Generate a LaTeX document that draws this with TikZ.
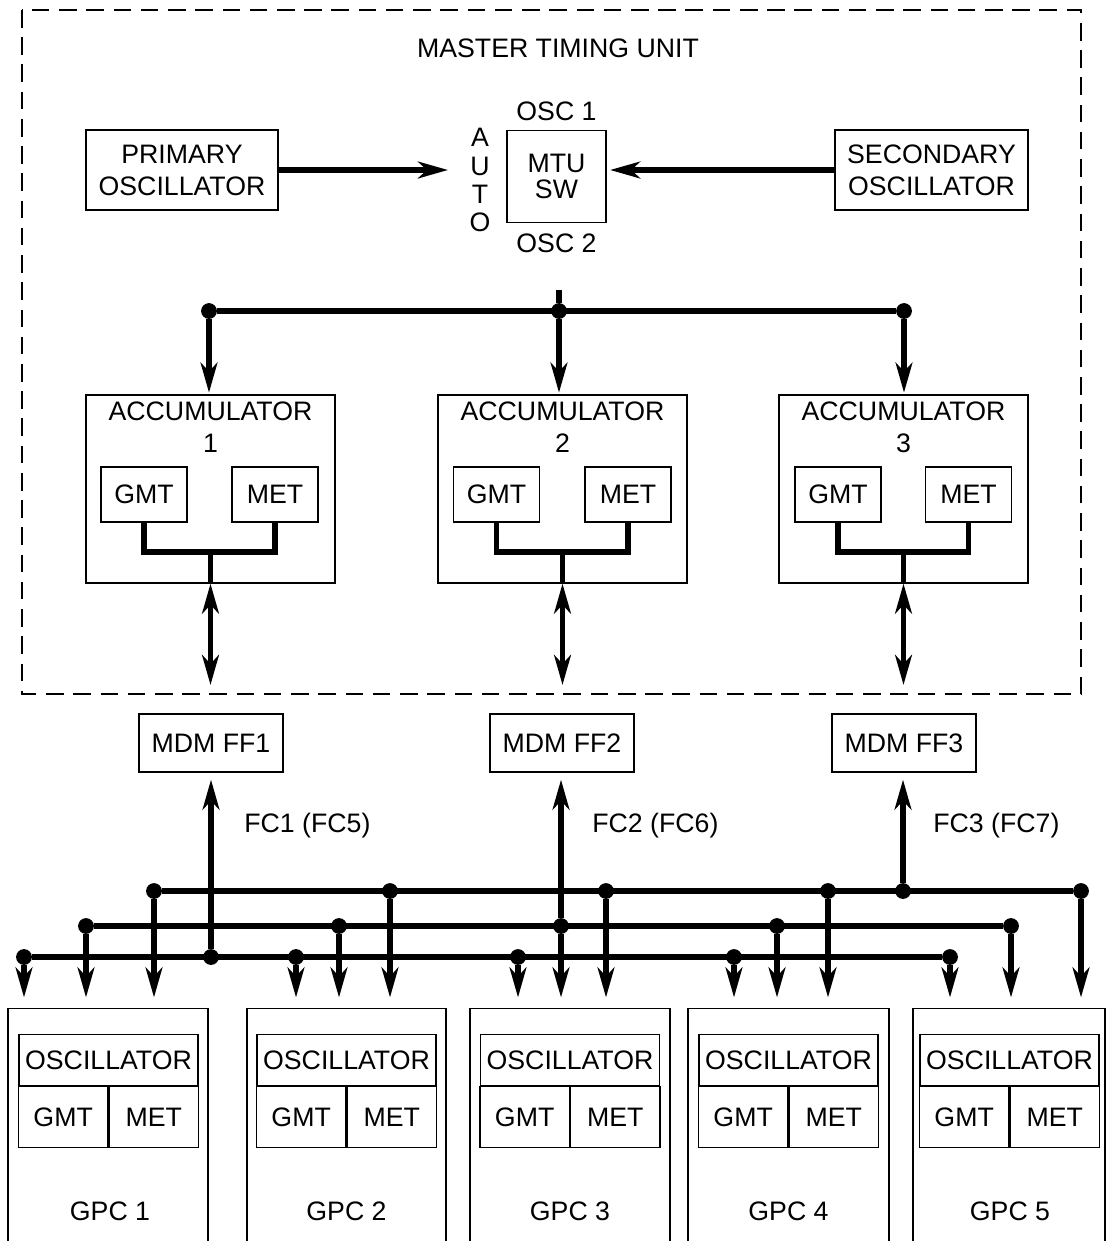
\documentclass[tikz,border=0pt]{standalone}
\usepackage{fontspec}
\setmainfont{Liberation Sans}
\usetikzlibrary{arrows.meta,positioning,calc}

\begin{document}
\begin{tikzpicture}[x=0.02cm,y=-0.02cm]
	\tikzset{>={Stealth[length=17pt,width=9.5pt,inset=5pt]}}
	\tikzset{box/.style={draw,line width=0.7pt,inner sep=0pt,align=center,font=\fontsize{15.2}{18.2}\selectfont},
		lbl/.style={inner sep=0pt,align=center,font=\fontsize{15.2}{18.2}\selectfont},
		bus/.style={line width=3.1pt},
		dot/.style={fill,circle,inner sep=0pt,minimum size=9pt}}
	\clip (0,0) rectangle (1106,1241);
	% master timing unit
	\draw[line width=0.75pt,dash pattern=on 10pt off 5.5pt] (22,10) rectangle (1081,694);
	\node[lbl] (mtu) at (558,48) {MASTER TIMING UNIT};
	\node[box,minimum width=3.84cm,minimum height=1.6cm] (prim) at (182,170) {PRIMARY\\OSCILLATOR};
	\node[box,minimum width=3.86cm,minimum height=1.6cm] (sec) at (931.5,170) {SECONDARY\\OSCILLATOR};
	\node[box,minimum width=1.98cm,minimum height=1.84cm,font=\fontsize{15.2}{15}\selectfont] (sw) at (556.5,176.5) {MTU\\SW};
	\node[lbl,above=5pt of sw] (osc1) {OSC 1};
	\node[lbl,below=6pt of sw] (osc2) {OSC 2};
	\node[lbl,font=\fontsize{15.2}{16}\selectfont] (auto) at (480,180) {A\\U\\T\\O};
	\coordinate (autoin) at (448,170);
	\draw[bus,->] (prim) -- (autoin);
	\draw[bus,->,shorten >=2pt] (sec) -- (sec -| sw.east);
	% distribution to accumulators
	\coordinate (stub) at (559,290);
	\node[dot] (t1) at (209,311) {};
	\node[dot] (t2) at (559,311) {};
	\node[dot] (t3) at (904,311) {};
	\draw[bus] (stub) -- (t2);
	\draw[bus] (t1) -- (t3);
	% accumulators
	\node[box,minimum width=4.98cm,minimum height=3.76cm] (acc1) at (210.5,489) {};
	\node[box,minimum width=4.98cm,minimum height=3.76cm] (acc2) at (562.5,489) {};
	\node[box,minimum width=4.98cm,minimum height=3.76cm] (acc3) at (903.5,489) {};
	\node[lbl,below=4pt of acc1.north] (acc1t) {ACCUMULATOR\\1};
	\node[lbl,below=4pt of acc2.north] (acc2t) {ACCUMULATOR\\2};
	\node[lbl,below=4pt of acc3.north] (acc3t) {ACCUMULATOR\\3};
	\node[box,minimum width=1.72cm,minimum height=1.1cm] (gmt1) at (144,494.5) {GMT};
	\node[box,minimum width=1.72cm,minimum height=1.1cm] (met1) at (275,494.5) {MET};
	\node[box,minimum width=1.72cm,minimum height=1.1cm] (gmt2) at (496.5,494.5) {GMT};
	\node[box,minimum width=1.72cm,minimum height=1.1cm] (met2) at (628,494.5) {MET};
	\node[box,minimum width=1.72cm,minimum height=1.1cm] (gmt3) at (838,494.5) {GMT};
	\node[box,minimum width=1.72cm,minimum height=1.1cm] (met3) at (968.5,494.5) {MET};
	\draw[bus,->,shorten >=1pt] (t1) -- (t1 |- acc1.north);
	\draw[bus,->,shorten >=1pt] (t2) -- (t2 |- acc2.north);
	\draw[bus,->,shorten >=1pt] (t3) -- (t3 |- acc3.north);
	\coordinate (j1) at (210.5,552);
	\coordinate (j2) at (562.5,552);
	\coordinate (j3) at (903.5,552);
	\draw[bus] (gmt1.south) |- (j1) -| (met1.south);
	\draw[bus] (gmt2.south) |- (j2) -| (met2.south);
	\draw[bus] (gmt3.south) |- (j3) -| (met3.south);
	\draw[bus] (j1) -- (acc1.south);
	\draw[bus] (j2) -- (acc2.south);
	\draw[bus] (j3) -- (acc3.south);
	\coordinate (a1) at (210.5,685);
	\coordinate (a2) at (562.5,685);
	\coordinate (a3) at (903.5,685);
	\draw[bus,<->] (acc1.south) -- (a1);
	\draw[bus,<->] (acc2.south) -- (a2);
	\draw[bus,<->] (acc3.south) -- (a3);
	% MDMs
	\node[box,minimum width=2.88cm,minimum height=1.16cm] (ff1) at (211,743) {MDM FF1};
	\node[box,minimum width=2.88cm,minimum height=1.16cm] (ff2) at (562,743) {MDM FF2};
	\node[box,minimum width=2.88cm,minimum height=1.16cm] (ff3) at (904,743) {MDM FF3};
	\node[lbl,anchor=west] (fc1) at (244,826) {FC1 (FC5)};
	\node[lbl,anchor=west] (fc2) at (592,826) {FC2 (FC6)};
	\node[lbl,anchor=west] (fc3) at (933,826) {FC3 (FC7)};
	% GPCs
	\node[box,minimum width=4cm,minimum height=6cm,anchor=north] (gpc1) at (108,1008) {};
	\node[box,minimum width=3.98cm,minimum height=6cm,anchor=north] (gpc2) at (346.5,1008) {};
	\node[box,minimum width=4cm,minimum height=6cm,anchor=north] (gpc3) at (570,1008) {};
	\node[box,minimum width=4.02cm,minimum height=6cm,anchor=north] (gpc4) at (788.5,1008) {};
	\node[box,minimum width=3.84cm,minimum height=6cm,anchor=north] (gpc5) at (1009,1008) {};
	\node[box,minimum width=3.58cm,minimum height=1.02cm,anchor=north] (osc1g) at (108.5,1034) {OSCILLATOR};
	\node[box,minimum width=3.58cm,minimum height=1.02cm,anchor=north] (osc2g) at (346.5,1034) {OSCILLATOR};
	\node[box,minimum width=3.58cm,minimum height=1.02cm,anchor=north] (osc3g) at (570,1034) {OSCILLATOR};
	\node[box,minimum width=3.58cm,minimum height=1.02cm,anchor=north] (osc4g) at (788.5,1034) {OSCILLATOR};
	\node[box,minimum width=3.58cm,minimum height=1.02cm,anchor=north] (osc5g) at (1009.5,1034) {OSCILLATOR};
	\node[box,minimum width=1.79cm,minimum height=1.22cm,anchor=north east] (g1) at (osc1g.south) {GMT};
	\node[box,minimum width=1.79cm,minimum height=1.22cm,anchor=north west] (m1) at (osc1g.south) {MET};
	\node[box,minimum width=1.79cm,minimum height=1.22cm,anchor=north east] (g2) at (osc2g.south) {GMT};
	\node[box,minimum width=1.79cm,minimum height=1.22cm,anchor=north west] (m2) at (osc2g.south) {MET};
	\node[box,minimum width=1.79cm,minimum height=1.22cm,anchor=north east] (g3) at (osc3g.south) {GMT};
	\node[box,minimum width=1.79cm,minimum height=1.22cm,anchor=north west] (m3) at (osc3g.south) {MET};
	\node[box,minimum width=1.79cm,minimum height=1.22cm,anchor=north east] (g4) at (osc4g.south) {GMT};
	\node[box,minimum width=1.79cm,minimum height=1.22cm,anchor=north west] (m4) at (osc4g.south) {MET};
	\node[box,minimum width=1.79cm,minimum height=1.22cm,anchor=north east] (g5) at (osc5g.south) {GMT};
	\node[box,minimum width=1.79cm,minimum height=1.22cm,anchor=north west] (m5) at (osc5g.south) {MET};
	\node[lbl] (gpc1t) at (110,1211) {GPC 1};
	\node[lbl] (gpc2t) at (346.5,1211) {GPC 2};
	\node[lbl] (gpc3t) at (570,1211) {GPC 3};
	\node[lbl] (gpc4t) at (788.5,1211) {GPC 4};
	\node[lbl] (gpc5t) at (1010,1211) {GPC 5};
	% flight critical buses
	\node[dot] (ta) at (154,891) {};
	\node[dot] (tb) at (390,891) {};
	\node[dot] (tc) at (606,891) {};
	\node[dot] (td) at (828,891) {};
	\node[dot] (tf) at (903,891) {};
	\node[dot] (te) at (1081,891) {};
	\node[dot] (ma) at (86,926) {};
	\node[dot] (mb) at (339,926) {};
	\node[dot] (mc) at (561,926) {};
	\node[dot] (md) at (777,926) {};
	\node[dot] (me) at (1011,926) {};
	\node[dot] (ba) at (24,957) {};
	\node[dot] (bf) at (211,957) {};
	\node[dot] (bb) at (296,957) {};
	\node[dot] (bc) at (518,957) {};
	\node[dot] (bd) at (734,957) {};
	\node[dot] (be) at (950,957) {};
	\draw[bus] (ta) -- (te);
	\draw[bus] (ma) -- (me);
	\draw[bus] (ba) -- (be);
	\draw[bus,->,shorten >=4pt] (bf) -- (bf |- ff1.south);
	\draw[bus,->,shorten >=4pt] (mc) -- (mc |- ff2.south);
	\draw[bus,->,shorten >=4pt] (tf) -- (tf |- ff3.south);
	\draw[bus,->,shorten >=6pt] (ba) -- (ba |- gpc1.north);
	\draw[bus,->,shorten >=6pt] (ma) -- (ma |- gpc1.north);
	\draw[bus,->,shorten >=6pt] (ta) -- (ta |- gpc1.north);
	\draw[bus,->,shorten >=6pt] (bb) -- (bb |- gpc2.north);
	\draw[bus,->,shorten >=6pt] (mb) -- (mb |- gpc2.north);
	\draw[bus,->,shorten >=6pt] (tb) -- (tb |- gpc2.north);
	\draw[bus,->,shorten >=6pt] (bc) -- (bc |- gpc3.north);
	\draw[bus,->,shorten >=6pt] (mc) -- (mc |- gpc3.north);
	\draw[bus,->,shorten >=6pt] (tc) -- (tc |- gpc3.north);
	\draw[bus,->,shorten >=6pt] (bd) -- (bd |- gpc4.north);
	\draw[bus,->,shorten >=6pt] (md) -- (md |- gpc4.north);
	\draw[bus,->,shorten >=6pt] (td) -- (td |- gpc4.north);
	\draw[bus,->,shorten >=6pt] (be) -- (be |- gpc5.north);
	\draw[bus,->,shorten >=6pt] (me) -- (me |- gpc5.north);
	\draw[bus,->,shorten >=6pt] (te) -- (te |- gpc5.north);
\end{tikzpicture}
\end{document}
